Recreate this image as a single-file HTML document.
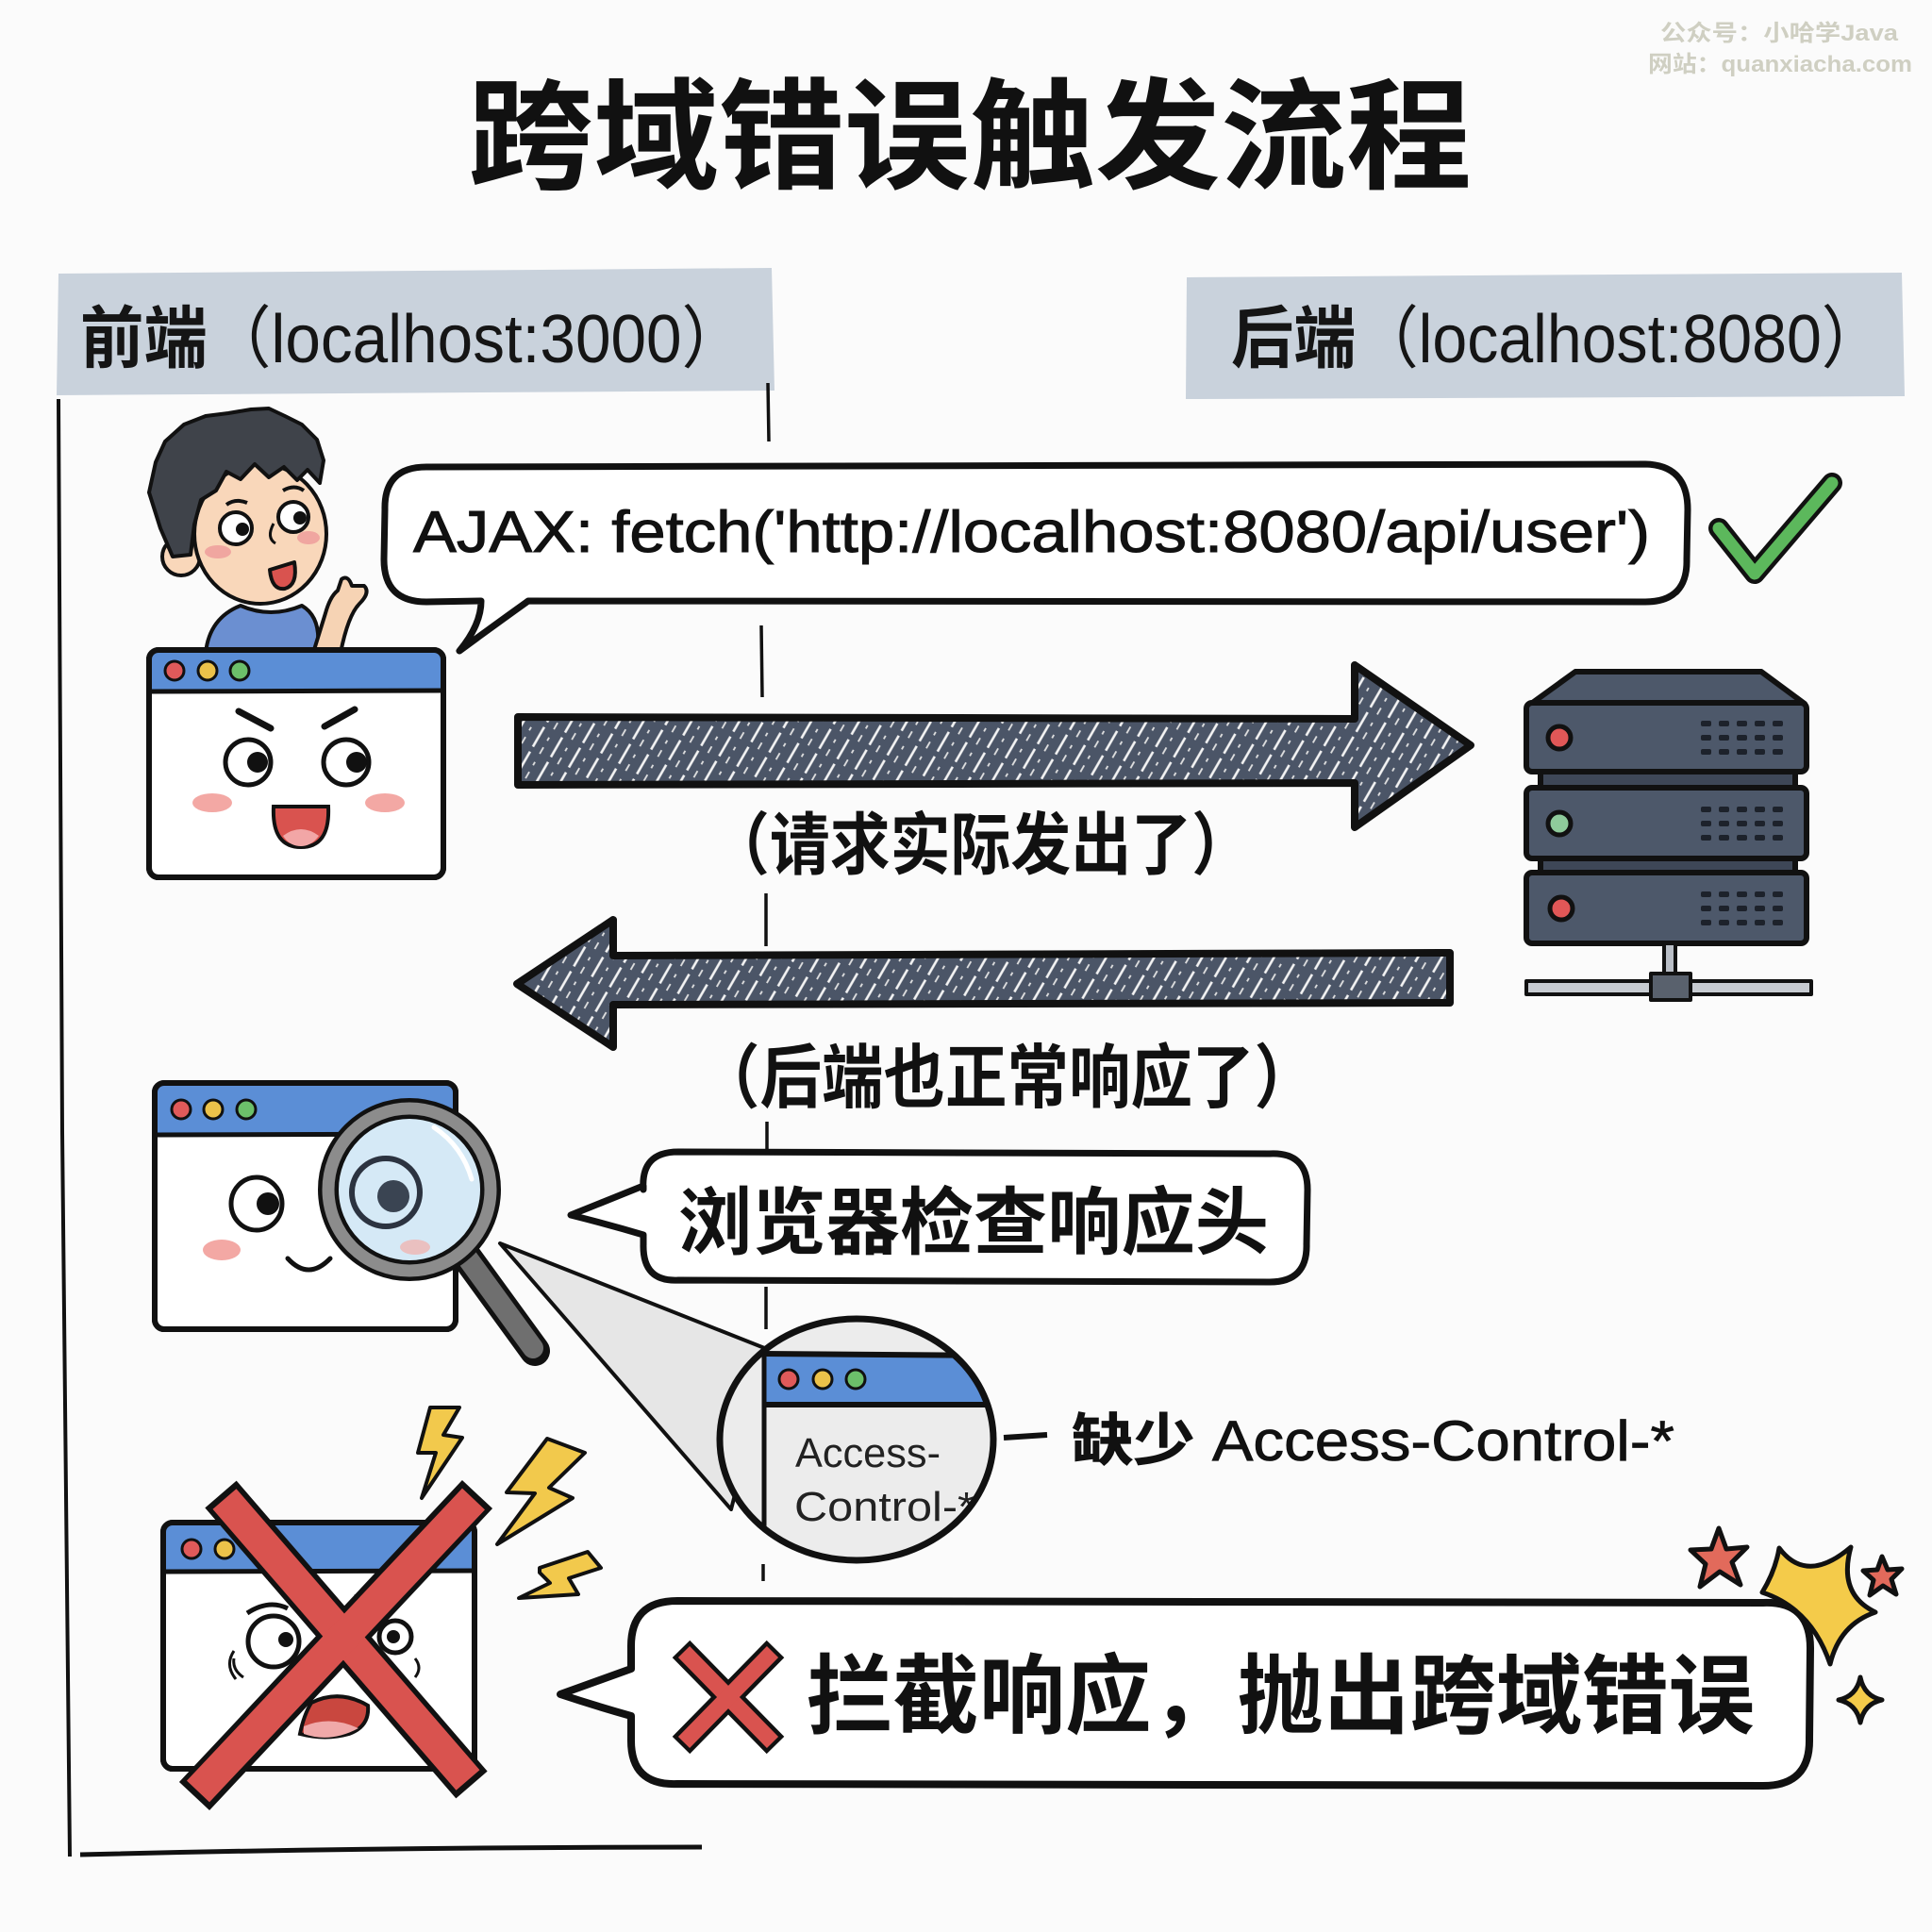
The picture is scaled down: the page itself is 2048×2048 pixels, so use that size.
<!DOCTYPE html>
<html><head><meta charset="utf-8">
<style>
html,body{margin:0;padding:0;background:#fbfbfb;}
svg{display:block;}
text{font-family:"Liberation Sans","Noto Sans CJK SC",sans-serif;}
</style></head>
<body>
<svg width="2048" height="2048" viewBox="0 0 2048 2048" xmlns="http://www.w3.org/2000/svg">
<defs>
  <pattern id="hatch" width="22" height="30" patternUnits="userSpaceOnUse" patternTransform="rotate(30)">
    <rect width="22" height="30" fill="#4b5567"/>
    <line x1="5" y1="0" x2="5" y2="30" stroke="#f4f4f4" stroke-width="2.6" stroke-dasharray="13 6"/>
    <line x1="15" y1="8" x2="15" y2="30" stroke="#e2e2e2" stroke-width="1.8" stroke-dasharray="8 10"/>
  </pattern>
  <clipPath id="zc"><ellipse cx="908" cy="1526" rx="144" ry="127"/></clipPath>
</defs>
<rect width="2048" height="2048" fill="#fbfbfb"/>

<!-- watermark -->
<text x="1760" y="43" font-family="Liberation Mono,Noto Sans CJK SC,monospace" font-weight="bold" font-size="24" fill="#cfcfc2" textLength="252" lengthAdjust="spacingAndGlyphs">公众号：小哈学Java</text>
<text x="1747" y="76" font-family="Liberation Mono,Noto Sans CJK SC,monospace" font-weight="bold" font-size="24" fill="#cfcfc2" textLength="280" lengthAdjust="spacingAndGlyphs">网站：quanxiacha.com</text>

<!-- title -->
<text x="496" y="190" font-size="128" font-weight="bold" fill="#111" textLength="1064" lengthAdjust="spacingAndGlyphs">跨域错误触发流程</text>

<!-- header boxes -->
<path d="M62,290 L818,284 L821,414 L60,419 Z" fill="#c9d2dc"/>
<path d="M1258,294 L2016,289 L2019,420 L1257,423 Z" fill="#c9d2dc"/>
<text x="85" y="384" font-size="72" fill="#151515" textLength="705" lengthAdjust="spacingAndGlyphs"><tspan font-weight="bold">前端</tspan>（localhost:3000）</text>
<text x="1305" y="384" font-size="72" fill="#151515" textLength="692" lengthAdjust="spacingAndGlyphs"><tspan font-weight="bold">后端</tspan>（localhost:8080）</text>

<!-- lane lines -->
<path d="M62,423 L66,1200 L74,1968" stroke="#111" stroke-width="4" fill="none"/>
<path d="M85,1966 Q400,1958 744,1958" stroke="#111" stroke-width="5" fill="none"/>
<g stroke="#111" stroke-width="3.5" fill="none">
  <line x1="814" y1="406" x2="815" y2="468"/>
  <line x1="807" y1="663" x2="808" y2="739"/>
  <line x1="812" y1="947" x2="812" y2="1003"/>
  <line x1="813" y1="1189" x2="813" y2="1221"/>
  <line x1="812" y1="1364" x2="812" y2="1409"/>
  <line x1="809" y1="1658" x2="809" y2="1676"/>
</g>

<!-- person -->
<g stroke="#111" stroke-width="4" stroke-linejoin="round">
  <path d="M218,692 Q222,655 255,642 Q287,656 320,642 Q342,655 336,692 Z" fill="#6b8fd1"/>
  <path d="M332,692 L345,650 Q350,632 358,626 L362,614 Q369,609 373,621 L386,621 Q393,628 381,640 Q369,652 361,692 Z" fill="#f6d3b4"/>
  <circle cx="192" cy="590" r="20" fill="#f9d7ba"/>
  <ellipse cx="276" cy="566" rx="70" ry="74" fill="#f9d7ba"/>
  <path d="M183,590 L170,560 L158,522 L165,490 L175,468 L195,450 L218,441 L242,438 L266,434 L285,433 L302,441 L320,450 L336,466 L343,488 L339,512 L326,498 L315,509 L301,495 L285,506 L270,492 L255,508 L240,500 L229,520 L213,530 L206,556 L202,588 Z" fill="#3f434a"/>
  <circle cx="250" cy="560" r="17" fill="#fff"/>
  <circle cx="311" cy="548" r="16" fill="#fff"/>
  <path d="M286,604 Q288,626 302,624 Q316,620 312,596 Z" fill="#d9534f"/>
</g>
<circle cx="257" cy="561" r="7" fill="#111"/>
<circle cx="318" cy="549" r="7" fill="#111"/>
<path d="M290,555 Q282,570 292,576" stroke="#111" stroke-width="3" fill="none"/>
<ellipse cx="231" cy="585" rx="14" ry="7" fill="#f0a6a0"/>
<ellipse cx="327" cy="570" rx="12" ry="7" fill="#f0a6a0"/>
<path d="M240,535 Q250,528 262,533" stroke="#111" stroke-width="4" fill="none"/>
<path d="M300,520 Q312,513 322,520" stroke="#111" stroke-width="4" fill="none"/>

<!-- browser 1 -->
<g stroke="#111" stroke-width="6" stroke-linejoin="round">
  <rect x="158" y="689" width="312" height="241" rx="10" fill="#fff"/>
  <path d="M161,692 L467,690 L467,732 L161,734 Z" fill="#5b8ed6" stroke-width="0"/>
  <line x1="160" y1="733" x2="468" y2="732" stroke-width="5"/>
  <rect x="158" y="689" width="312" height="241" rx="10" fill="none"/>
</g>
<g stroke="#111" stroke-width="3">
  <circle cx="185" cy="711" r="10" fill="#e05a5a"/>
  <circle cx="220" cy="711" r="10" fill="#ecc24a"/>
  <circle cx="254" cy="711" r="10" fill="#6cbf6a"/>
</g>
<g stroke="#111" stroke-linecap="round" fill="none">
  <line x1="253" y1="754" x2="287" y2="772" stroke-width="7"/>
  <line x1="344" y1="770" x2="376" y2="752" stroke-width="7"/>
</g>
<circle cx="263" cy="808" r="24" fill="#fff" stroke="#111" stroke-width="5"/>
<circle cx="367" cy="808" r="24" fill="#fff" stroke="#111" stroke-width="5"/>
<circle cx="273" cy="808" r="11" fill="#111"/>
<circle cx="378" cy="808" r="11" fill="#111"/>
<ellipse cx="225" cy="851" rx="21" ry="10" fill="#f3a8a4"/>
<ellipse cx="408" cy="851" rx="21" ry="10" fill="#f3a8a4"/>
<path d="M290,855 L348,855 Q350,898 319,898 Q288,898 290,855 Z" fill="#d9534f" stroke="#111" stroke-width="4"/>
<path d="M300,886 Q319,872 338,886 Q330,897 319,897 Q307,897 300,886 Z" fill="#f2a6a6"/>

<!-- bubble 1 -->
<path d="M452,495 L1744,492 Q1789,493 1789,540 L1788,593 Q1789,638 1744,638 L560,637 Q525,662 487,690 Q510,662 510,637 L452,638 Q407,638 407,593 L408,540 Q407,495 452,495 Z" fill="#fff" stroke="#111" stroke-width="7" stroke-linejoin="round"/>
<text x="438" y="585" font-size="62" fill="#111" stroke="#111" stroke-width="1" textLength="1311" lengthAdjust="spacingAndGlyphs">AJAX:  fetch('http://localhost:8080/api/user')</text>

<!-- check -->
<path d="M1822,560 L1860,608 L1942,512" stroke="#111" stroke-width="22" fill="none" stroke-linecap="round" stroke-linejoin="round"/>
<path d="M1822,560 L1860,608 L1942,512" stroke="#5cb85c" stroke-width="13" fill="none" stroke-linecap="round" stroke-linejoin="round"/>

<!-- arrows -->
<path d="M549,760 L1436,762 L1436,705 L1559,790 L1436,877 L1436,830 L549,832 Z" fill="url(#hatch)" stroke="#111" stroke-width="8" stroke-linejoin="round"/>
<path d="M548,1043 L650,975 L650,1013 L1537,1010 L1537,1063 L650,1065 L650,1110 Z" fill="url(#hatch)" stroke="#111" stroke-width="8" stroke-linejoin="round"/>

<text x="752" y="921" font-size="72" font-weight="bold" fill="#111" textLength="575" lengthAdjust="spacingAndGlyphs">（请求实际发出了）</text>
<text x="740" y="1168" font-size="74" font-weight="bold" fill="#111" textLength="655" lengthAdjust="spacingAndGlyphs">（后端也正常响应了）</text>

<!-- server -->
<g stroke="#111" stroke-width="6" stroke-linejoin="round">
  <path d="M1623,746 L1670,712 L1867,712 L1913,746 Z" fill="#4d586a"/>
  <rect x="1633" y="812" width="270" height="28" fill="#3e4757"/>
  <rect x="1633" y="904" width="270" height="26" fill="#3e4757"/>
  <rect x="1618" y="745" width="297" height="73" rx="6" fill="#4d586a"/>
  <rect x="1618" y="835" width="297" height="75" rx="6" fill="#4d586a"/>
  <rect x="1618" y="925" width="297" height="75" rx="6" fill="#4d586a"/>
  <rect x="1764" y="1000" width="12" height="42" fill="#b9bec6" stroke-width="4"/>
  <rect x="1618" y="1040" width="302" height="14" fill="#c7cbd1" stroke-width="4"/>
  <rect x="1750" y="1032" width="42" height="28" fill="#59616d" stroke-width="4"/>
</g>
<g stroke="#111" stroke-width="5">
  <circle cx="1653" cy="782" r="12" fill="#e15757"/>
  <circle cx="1653" cy="873" r="12" fill="#8fcb9b"/>
  <circle cx="1655" cy="963" r="12" fill="#e15757"/>
</g>
<g fill="#1d222b">
  <g id="vents">
    <rect x="1803" y="764" width="11" height="6" rx="2"/><rect x="1822" y="764" width="11" height="6" rx="2"/><rect x="1841" y="764" width="11" height="6" rx="2"/><rect x="1860" y="764" width="11" height="6" rx="2"/><rect x="1879" y="764" width="11" height="6" rx="2"/>
    <rect x="1803" y="779" width="11" height="6" rx="2"/><rect x="1822" y="779" width="11" height="6" rx="2"/><rect x="1841" y="779" width="11" height="6" rx="2"/><rect x="1860" y="779" width="11" height="6" rx="2"/><rect x="1879" y="779" width="11" height="6" rx="2"/>
    <rect x="1803" y="794" width="11" height="6" rx="2"/><rect x="1822" y="794" width="11" height="6" rx="2"/><rect x="1841" y="794" width="11" height="6" rx="2"/><rect x="1860" y="794" width="11" height="6" rx="2"/><rect x="1879" y="794" width="11" height="6" rx="2"/>
  </g>
  <use href="#vents" transform="translate(0,91)"/>
  <use href="#vents" transform="translate(0,181)"/>
</g>

<!-- browser 2 -->
<g stroke="#111" stroke-width="6" stroke-linejoin="round">
  <rect x="164" y="1148" width="319" height="261" rx="10" fill="#fff"/>
  <path d="M167,1151 L480,1150 L480,1202 L167,1203 Z" fill="#5b8ed6" stroke-width="0"/>
  <line x1="166" y1="1203" x2="481" y2="1202" stroke-width="5"/>
  <rect x="164" y="1148" width="319" height="261" rx="10" fill="none"/>
</g>
<g stroke="#111" stroke-width="3">
  <circle cx="192" cy="1176" r="10" fill="#e05a5a"/>
  <circle cx="226" cy="1176" r="10" fill="#ecc24a"/>
  <circle cx="261" cy="1176" r="10" fill="#6cbf6a"/>
</g>
<ellipse cx="272" cy="1276" rx="27" ry="28" fill="#fff" stroke="#111" stroke-width="5"/>
<circle cx="284" cy="1276" r="12" fill="#111"/>
<ellipse cx="235" cy="1325" rx="20" ry="11" fill="#f3a8a4"/>
<path d="M305,1334 Q327,1358 350,1334" stroke="#111" stroke-width="5" fill="none" stroke-linecap="round"/>

<!-- cone -->
<path d="M530,1318 L818,1432 L775,1600 Z" fill="#e6e6e6" stroke="#111" stroke-width="4" stroke-linejoin="round"/>

<!-- magnifier -->
<line x1="495" y1="1333" x2="567" y2="1432" stroke="#111" stroke-width="32" stroke-linecap="round"/>
<line x1="495" y1="1333" x2="565" y2="1429" stroke="#6f6f6f" stroke-width="22" stroke-linecap="round"/>
<circle cx="434" cy="1261" r="86" fill="#d5e9f6" stroke="#111" stroke-width="22"/>
<circle cx="434" cy="1261" r="86" fill="none" stroke="#8c8c8c" stroke-width="13"/>
<circle cx="434" cy="1261" r="77" fill="none" stroke="#111" stroke-width="3"/>
<circle cx="409" cy="1264" r="36" fill="#d5e9f6" stroke="#2c3340" stroke-width="6"/>
<circle cx="417" cy="1268" r="17" fill="#3a4452"/>
<ellipse cx="440" cy="1322" rx="16" ry="8" fill="#efb5b3" opacity="0.8"/>
<path d="M460,1195 Q490,1215 500,1250" stroke="#fff" stroke-width="5" fill="none" stroke-linecap="round"/>

<!-- zoom circle -->
<ellipse cx="908" cy="1526" rx="145" ry="128" fill="#ececec"/>
<g clip-path="url(#zc)">
  <rect x="809" y="1435" width="260" height="54" fill="#5b8ed6"/>
  <line x1="809" y1="1435" x2="1070" y2="1437" stroke="#111" stroke-width="6"/>
  <line x1="809" y1="1489" x2="1070" y2="1489" stroke="#111" stroke-width="6"/>
  <line x1="810" y1="1430" x2="810" y2="1660" stroke="#111" stroke-width="5"/>
  <g stroke="#111" stroke-width="3">
    <circle cx="836" cy="1462" r="10" fill="#e05a5a"/>
    <circle cx="872" cy="1462" r="10" fill="#ecc24a"/>
    <circle cx="907" cy="1462" r="10" fill="#6cbf6a"/>
  </g>
  <text x="843" y="1555" font-size="44" fill="#222" textLength="154" lengthAdjust="spacingAndGlyphs">Access-</text>
  <text x="842" y="1612" font-size="44" fill="#222" textLength="192" lengthAdjust="spacingAndGlyphs">Control-*</text>
</g>
<ellipse cx="908" cy="1526" rx="145" ry="128" fill="none" stroke="#111" stroke-width="7"/>

<line x1="1064" y1="1524" x2="1110" y2="1521" stroke="#111" stroke-width="6"/>
<text x="1136" y="1548" font-size="60" fill="#111" stroke="#111" stroke-width="0.8" textLength="639" lengthAdjust="spacingAndGlyphs"><tspan font-weight="bold">缺少</tspan> Access-Control-*</text>

<!-- bubble 2 -->
<path d="M719,1221 L1346,1223 Q1386,1221 1386,1261 L1385,1319 Q1386,1359 1346,1359 L719,1357 Q681,1359 682,1319 L682,1309 Q645,1298 605,1288 Q645,1272 682,1257 L682,1261 Q679,1221 719,1221 Z" fill="#fff" stroke="#111" stroke-width="7" stroke-linejoin="round"/>
<text x="719" y="1323" font-size="78" font-weight="bold" fill="#111" textLength="626" lengthAdjust="spacingAndGlyphs">浏览器检查响应头</text>

<!-- error browser -->
<g stroke="#111" stroke-width="6" stroke-linejoin="round">
  <rect x="173" y="1614" width="330" height="261" rx="10" fill="#fff"/>
  <path d="M176,1617 L500,1616 L500,1665 L176,1666 Z" fill="#5b8ed6" stroke-width="0"/>
  <line x1="175" y1="1666" x2="501" y2="1665" stroke-width="5"/>
  <rect x="173" y="1614" width="330" height="261" rx="10" fill="none"/>
</g>
<g stroke="#111" stroke-width="3">
  <circle cx="203" cy="1642" r="10" fill="#e05a5a"/>
  <circle cx="238" cy="1642" r="10" fill="#ecc24a"/>
</g>
<path d="M262,1710 Q285,1695 305,1705" stroke="#111" stroke-width="5" fill="none"/>
<path d="M378,1690 L380,1705" stroke="#111" stroke-width="5" fill="none"/>
<circle cx="290" cy="1740" r="27" fill="#fff" stroke="#111" stroke-width="5"/>
<circle cx="303" cy="1738" r="8" fill="#111"/>
<circle cx="419" cy="1735" r="17" fill="#fff" stroke="#111" stroke-width="5"/>
<circle cx="417" cy="1735" r="7" fill="#111"/>
<path d="M248,1758 Q246,1770 258,1778 M440,1758 Q448,1768 440,1778 M248,1750 Q238,1765 250,1780" stroke="#111" stroke-width="3" fill="none"/>
<path d="M330,1805 Q360,1790 390,1808 Q392,1830 370,1838 Q345,1845 318,1838 Q322,1818 330,1805 Z" fill="#c9473f" stroke="#111" stroke-width="4"/>
<path d="M322,1830 Q350,1818 380,1832 Q350,1848 322,1838 Z" fill="#f0a9a9"/>

<!-- big red X -->
<g stroke-linecap="butt">
  <line x1="234" y1="1584" x2="500" y2="1892" stroke="#111" stroke-width="44"/>
  <line x1="506" y1="1584" x2="206" y2="1904" stroke="#111" stroke-width="44"/>
  <line x1="238" y1="1589" x2="496" y2="1887" stroke="#d9534f" stroke-width="33"/>
  <line x1="502" y1="1589" x2="210" y2="1899" stroke="#d9534f" stroke-width="33"/>
</g>

<!-- lightning -->
<g fill="#f2c94c" stroke="#111" stroke-width="4" stroke-linejoin="round">
  <path d="M456,1492 L487,1492 L470,1521 L490,1524 L447,1588 L462,1540 L443,1540 Z"/>
  <path d="M580,1525 L620,1540 L582,1577 L607,1588 L527,1637 L567,1583 L537,1582 Z"/>
  <path d="M572,1662 L623,1645 L637,1662 L603,1673 L613,1690 L550,1694 L583,1678 L572,1667 Z"/>
</g>

<!-- bubble 3 -->
<path d="M718,1697 L1869,1699 Q1919,1697 1919,1747 L1918,1843 Q1919,1893 1869,1893 L718,1891 Q668,1893 669,1843 L669,1819 Q630,1808 594,1796 Q630,1783 669,1769 L669,1747 Q668,1697 718,1697 Z" fill="#fff" stroke="#111" stroke-width="8" stroke-linejoin="round"/>
<g stroke-linecap="butt">
  <line x1="722" y1="1748" x2="822" y2="1850" stroke="#111" stroke-width="26"/>
  <line x1="822" y1="1748" x2="722" y2="1850" stroke="#111" stroke-width="26"/>
  <line x1="725" y1="1751" x2="819" y2="1847" stroke="#d9534f" stroke-width="17"/>
  <line x1="819" y1="1751" x2="725" y2="1847" stroke="#d9534f" stroke-width="17"/>
</g>
<text x="855" y="1830" font-size="92" font-weight="bold" fill="#111" textLength="1005" lengthAdjust="spacingAndGlyphs">拦截响应，抛出跨域错误</text>

<!-- stars -->
<g stroke="#111" stroke-width="5" stroke-linejoin="round">
  <path d="M1822,1620 L1830,1642 L1852,1640 L1836,1656 L1845,1680 L1823,1666 L1802,1682 L1808,1658 L1792,1643 L1814,1642 Z" fill="#e26a5b"/>
  <path d="M1995,1650 L2001,1664 L2016,1663 L2005,1674 L2010,1690 L1996,1681 L1982,1691 L1986,1675 L1975,1665 L1990,1664 Z" fill="#e26a5b"/>
  <path d="M1868,1688 Q1882,1665 1886,1641 Q1915,1680 1962,1640 Q1948,1690 1988,1709 Q1950,1722 1940,1764 Q1920,1705 1868,1688 Z" fill="#f4cb4a"/>
  <path d="M1972,1778 Q1976,1798 1995,1802 Q1976,1806 1972,1826 Q1968,1806 1949,1802 Q1968,1798 1972,1778 Z" fill="#f4cb4a"/>
</g>
</svg>
</body></html>
